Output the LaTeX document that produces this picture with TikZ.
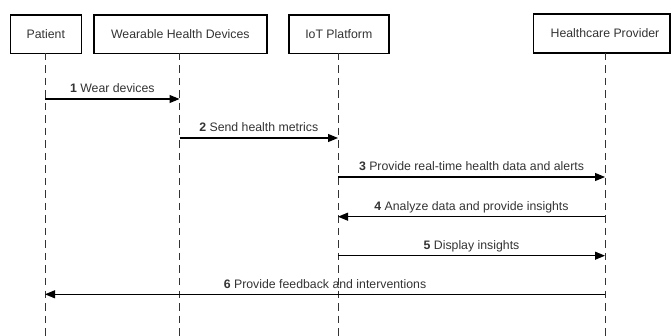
\documentclass[tikz,border=0pt]{standalone}
\usepackage{fontspec}
\setmainfont{Liberation Sans}
\usetikzlibrary{arrows.meta}
\begin{document}
\begin{tikzpicture}[x=1pt,y=-1pt,
  actor/.style={draw=black,line width=1.6pt,minimum height=38.5pt,inner sep=0pt,anchor=north west,text=black!80,font=\fontsize{12.3}{14}\selectfont},
  lifeline/.style={draw=black!80,line width=0.9pt,dash pattern=on 7.5pt off 5pt},
  msg/.style={draw=black,line width=1.1pt,-{Triangle[length=10pt,width=8pt]}},
  lbl/.style={text=black!80,font=\fontsize{12.3}{14}\selectfont,inner sep=0pt,anchor=base}
]
\useasboundingbox (0,0) rectangle (671,336);
% actor boxes
\node[actor,minimum width=71pt] (pat) at (9.5,14.3) {Patient};
\node[actor,minimum width=173pt] (wear) at (93,14.3) {Wearable Health Devices};
\node[actor,minimum width=100pt] (iot) at (288,14.3) {IoT Platform};
\draw[line width=1.6pt] (533.3,14.3) rectangle (670.2,52.8);
\node[text=black!80,font=\fontsize{12.3}{14}\selectfont,inner sep=0pt] (hcp) at (605,33.5) {Healthcare Provider};
% lifeline anchors
\coordinate (patT) at (45,53);  \coordinate (patB) at (45,336);
\coordinate (wearT) at (179.5,53); \coordinate (wearB) at (179.5,336);
\coordinate (iotT) at (338,53);  \coordinate (iotB) at (338,336);
\coordinate (hcpT) at (605,53);  \coordinate (hcpB) at (605,336);
\draw[lifeline] (patT) -- (patB);
\draw[lifeline] (wearT) -- (wearB);
\draw[lifeline] (iotT) -- (iotB);
\draw[lifeline] (hcpT) -- (hcpB);
% message endpoints
\coordinate (m1a) at (45,99);    \coordinate (m1b) at (179.5,99);
\coordinate (m2a) at (179.5,138); \coordinate (m2b) at (338,138);
\coordinate (m3a) at (338,177);  \coordinate (m3b) at (605,177);
\coordinate (m4a) at (605,216.7); \coordinate (m4b) at (338,216.7);
\coordinate (m5a) at (338,255.7); \coordinate (m5b) at (605,255.7);
\coordinate (m6a) at (605,294.3); \coordinate (m6b) at (45,294.3);
\draw[msg] (m1a) -- (m1b);
\draw[msg] (m2a) -- (m2b);
\draw[msg] (m3a) -- (m3b);
\draw[msg] (m4a) -- (m4b);
\draw[msg] (m5a) -- (m5b);
\draw[msg] (m6a) -- (m6b);
% labels
\node[lbl] (l1) at (112.3,92.5) {\textbf{1} Wear devices};
\node[lbl] (l2) at (258.8,131.5) {\textbf{2} Send health metrics};
\node[lbl] (l3) at (471.5,170.5) {\textbf{3} Provide real-time health data and alerts};
\node[lbl] (l4) at (471.5,210.2) {\textbf{4} Analyze data and provide insights};
\node[lbl] (l5) at (471.5,249.2) {\textbf{5} Display insights};
\node[lbl] (l6) at (325,288.5) {\textbf{6} Provide feedback and interventions};
\end{tikzpicture}
\end{document}
